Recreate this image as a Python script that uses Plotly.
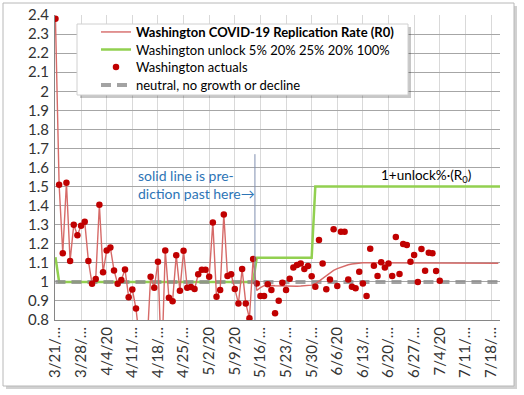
import plotly.graph_objects as go
import pandas as pd

# ---------------- data ----------------
start_date = "2020-03-21"

# Washington actuals, one per day from 3/21/20 to 7/4/20
actual_r = [
    2.38, 1.51, 1.15, 1.52, 1.11, 1.30, 1.245, 1.295, 1.315, 1.11,
    0.99, 1.015, 1.405, 1.05, 1.165, 1.18, 1.06, 0.99, 1.01, 1.065,
    0.92, 0.96, 0.86, 0.69, 0.60, 0.66, 1.027, 0.969, 1.106, 0.55,
    1.165, 0.917, 0.899, 1.14, 0.954, 1.163, 0.969, 0.973, 0.962, 1.04,
    1.064, 1.064, 1.027, 1.312, 0.922, 0.957, 1.354, 1.031, 1.04, 0.962,
    0.887, 1.067, 0.887, 0.809, 1.12, 0.992, 0.926, 0.926, 0.987, 0.957,
    0.835, 0.901, 0.996, 0.957, 1.017, 1.076, 1.088, 1.097, 1.067, 1.083,
    1.03, 0.975, 1.22, 1.097, 0.961, 1.013, 1.276, 0.978, 1.263, 1.263,
    1.013, 0.975, 0.966, 1.053, 0.992, 0.926, 1.174, 1.085, 1.031, 1.103,
    1.076, 1.097, 1.031, 1.235, 1.041, 1.199, 1.193, 1.106, 1.141, 1.0,
    1.172, 1.059, 1.153, 1.15, 1.057, 1.006,
]
# number of days for which the solid line follows the actuals (through 5/14)
n_fit_days = 55

# model prediction, one per day from 5/15/20 to 7/20/20
predicted_r = [
    0.955, 0.97, 0.98, 0.982, 0.981, 0.98, 0.979, 0.978, 0.977, 0.977,
    0.977, 0.977, 0.978, 0.979, 0.98, 0.983, 0.99, 1.004, 1.019, 1.034,
    1.048, 1.06, 1.07, 1.078, 1.085, 1.09, 1.094, 1.097, 1.099, 1.1,
    1.1, 1.1, 1.1, 1.1, 1.1, 1.1, 1.1, 1.1, 1.1, 1.1,
    1.1, 1.1, 1.1, 1.1, 1.1, 1.1, 1.1, 1.1, 1.1, 1.1,
    1.1, 1.1, 1.1, 1.1, 1.1, 1.1, 1.1, 1.1, 1.1, 1.099,
    1.098, 1.098, 1.098, 1.098, 1.098, 1.098, 1.098,
]

unlock_dates = ["2020-03-21", "2020-03-22", "2020-05-14", "2020-05-15",
                "2020-05-30", "2020-05-31", "2020-07-21"]
unlock_r = [1.13, 1.0, 1.0, 1.127, 1.127, 1.5, 1.5]

neutral_dates = ["2020-03-21", "2020-07-21"]
neutral_r = [1.0, 1.0]

tick_dates = ["2020-03-21", "2020-03-28", "2020-04-04", "2020-04-11", "2020-04-18",
              "2020-04-25", "2020-05-02", "2020-05-09", "2020-05-16", "2020-05-23",
              "2020-05-30", "2020-06-06", "2020-06-13", "2020-06-20", "2020-06-27",
              "2020-07-04", "2020-07-11", "2020-07-18"]
tick_labels = ["3/21/…", "3/28/…", "4/4/20", "4/11/…", "4/18/…", "4/25/…", "5/2/20",
               "5/9/20", "5/16/…", "5/23/…", "5/30/…", "6/6/20", "6/13/…", "6/20/…",
               "6/27/…", "7/4/20", "7/11/…", "7/18/…"]

y_ticks = [0.8, 0.9, 1.0, 1.1, 1.2, 1.3, 1.4, 1.5, 1.6, 1.7, 1.8, 1.9, 2.0, 2.1, 2.2, 2.3, 2.4]

prediction_start = "2020-05-14 12:00"

# ---------------- derived ----------------
rate_r = actual_r[:n_fit_days] + predicted_r
rate_dates = pd.date_range(start_date, periods=len(rate_r))
actual_dates = pd.date_range(start_date, periods=len(actual_r))

FONT = "Lato, Carlito, Calibri, sans-serif"

fig = go.Figure()

fig.add_trace(go.Scatter(
    x=unlock_dates, y=unlock_r, mode="lines",
    name="Washington unlock 5% 20% 25% 20% 100%",
    line=dict(color="#92d050", width=2.5), legend="legend2"))

fig.add_trace(go.Scatter(
    x=neutral_dates, y=neutral_r, mode="lines",
    name="neutral, no growth or decline",
    line=dict(color="rgba(140,140,140,0.8)", width=4, dash="10px,6px"), legend="legend4"))

fig.add_trace(go.Scatter(
    x=rate_dates, y=rate_r, mode="lines",
    name="<b>Washington COVID-19 Replication Rate (R0)</b>",
    line=dict(color="#d66a68", width=1.4), legend="legend"))

fig.add_trace(go.Scatter(
    x=actual_dates, y=actual_r, mode="markers",
    name="Washington actuals",
    marker=dict(color="#c00000", size=6.5), legend="legend3"))

# helper to convert pixel to paper coords
PL, PR, PT, PB = 55, 500, 15, 320
def px(x):
    return (x - PL) / (PR - PL)
def py(y):
    return (PB - y) / (PB - PT)

shapes = [
    # outer frame shadow + frame
    dict(type="rect", xref="paper", yref="paper", x0=px(6), x1=px(517), y0=py(6), y1=py(389),
         fillcolor="rgba(0,0,0,0.18)", line=dict(width=0), layer="below"),
    dict(type="rect", xref="paper", yref="paper", x0=px(3), x1=px(514), y0=py(3), y1=py(386),
         fillcolor="white", line=dict(color="#b8b8b8", width=1), layer="below"),
    # prediction start line
    dict(type="line", xref="x", yref="y", x0=prediction_start, x1=prediction_start,
         y0=0.8, y1=1.67, line=dict(color="#7f8fb0", width=1), layer="above"),
    # legend box shadow + box
    dict(type="rect", xref="paper", yref="paper", x0=px(80), x1=px(411), y0=py(27), y1=py(98),
         fillcolor="rgba(0,0,0,0.22)", line=dict(width=0), layer="above"),
    dict(type="rect", xref="paper", yref="paper", x0=px(77), x1=px(408), y0=py(24), y1=py(95),
         fillcolor="white", line=dict(color="#d0d0d0", width=1), layer="above"),
]

annotations = [
    dict(xref="paper", yref="paper", x=px(136), y=py(184), xanchor="left", yanchor="middle",
         text="solid line is pre-<br>diction past here→", showarrow=False, align="left",
         font=dict(family=FONT, size=14, color="#2e75b6")),
    dict(xref="paper", yref="paper", x=px(426), y=py(176), xanchor="center", yanchor="middle",
         text="1+unlock%·(R<sub>0</sub>)", showarrow=False,
         font=dict(family=FONT, size=13.5, color="#000000")),
]

def legend_at(top_px):
    return dict(x=px(96), y=py(top_px), xanchor="left", yanchor="top",
                bgcolor="rgba(0,0,0,0)", borderwidth=0,
                font=dict(family=FONT, size=13, color="#000000"))

fig.update_layout(
    width=524, height=395,
    margin=dict(l=PL, r=524 - PR, t=PT, b=395 - PB, autoexpand=False),
    paper_bgcolor="white", plot_bgcolor="rgba(0,0,0,0)",
    font=dict(family=FONT, size=13, color="#333333"),
    showlegend=True,
    legend=legend_at(17),
    legend2=legend_at(34.5),
    legend3=legend_at(52),
    legend4=legend_at(70),
    shapes=shapes,
    annotations=annotations,
    xaxis=dict(
        type="date",
        range=["2020-03-20 21:00", "2020-07-20 11:00"],
        tickmode="array", tickvals=tick_dates, ticktext=tick_labels,
        tickangle=-90, tickfont=dict(family=FONT, size=15, color="#333333"),
        showgrid=True, gridcolor="#d9d9d9", gridwidth=1,
        showline=True, linecolor="#868686", linewidth=1,
        ticks="", zeroline=False,
    ),
    yaxis=dict(
        range=[0.8, 2.4],
        tickmode="array", tickvals=y_ticks,
        ticktext=[("%g" % v) for v in y_ticks],
        tickfont=dict(family=FONT, size=15, color="#333333"),
        showgrid=True, gridcolor="#a6a6a6", gridwidth=1,
        showline=True, linecolor="#868686", linewidth=1,
        ticks="outside", ticklen=2, tickcolor="rgba(0,0,0,0)",
        zeroline=False,
    ),
)

fig.write_html("out.html", config={"displayModeBar": False},
               post_script="document.body.style.margin='0';")
